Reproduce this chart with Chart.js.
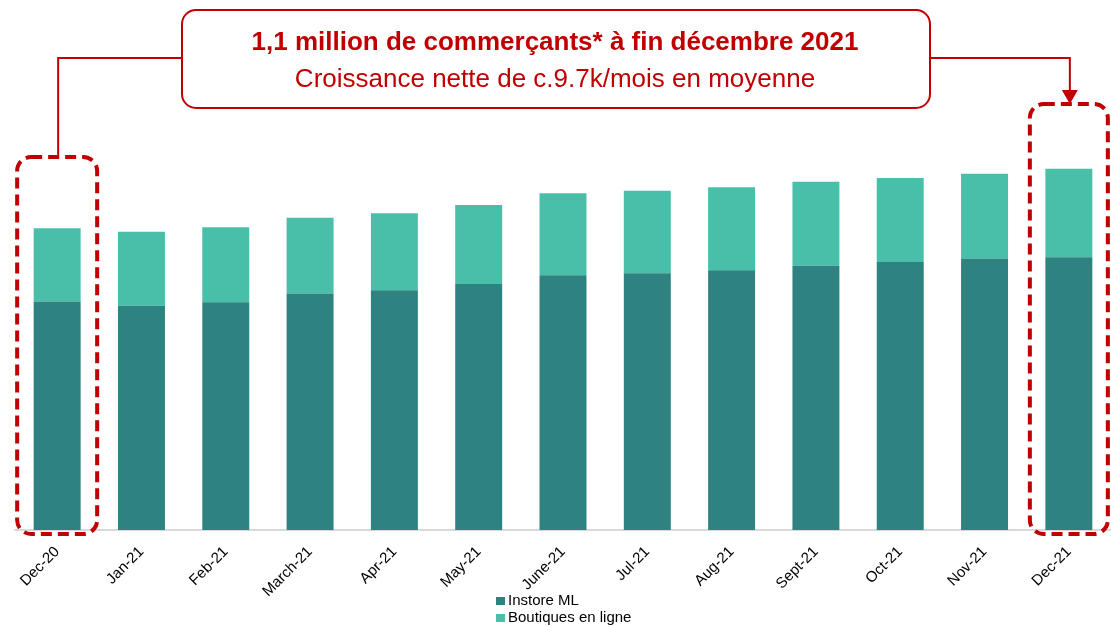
<!DOCTYPE html>
<html>
<head>
<meta charset="utf-8">
<script src="https://cdn.jsdelivr.net/npm/chart.js@4"></script>
<style>
  html, body { margin: 0; padding: 0; background: #fff; }
  #wrap { position: relative; width: 1111px; height: 626px; }
  #legend { position: absolute; left: 496px; top: 591px; font: 15px Arial, "Liberation Sans", sans-serif; color: #000; line-height: 17px; }
  #legend .box { display: inline-block; width: 9px; height: 8px; margin-right: 3px; }
</style>
</head>
<body>
<div id="wrap">
  <canvas id="chart" width="1111" height="626"></canvas>
  <div id="legend"></div>
</div>
<script>
// values in thousands of merchants
var months = ['Dec-20', 'Jan-21', 'Feb-21', 'March-21', 'Apr-21', 'May-21', 'June-21', 'Jul-21', 'Aug-21', 'Sept-21', 'Oct-21', 'Nov-21', 'Dec-21'];
var instoreML = [696, 683, 694, 720, 730, 749, 776, 782, 791, 805, 816, 827, 831];
var boutiquesEnLigne = [223, 225, 228, 231, 235, 241, 250, 251, 253, 256, 256, 258, 269];
var seriesNames = ['Instore ML', 'Boutiques en ligne'];
var headline = '1,1 million de commerçants* à fin décembre 2021';
var subline = 'Croissance nette de c.9.7k/mois en moyenne';

var RED = '#C00000';
var FONT = 'Arial, "Liberation Sans", sans-serif';

function roundedRect(ctx, x, y, w, h, r) {
    ctx.beginPath();
    ctx.moveTo(x + r, y);
    ctx.lineTo(x + w - r, y);
    ctx.arcTo(x + w, y, x + w, y + r, r);
    ctx.lineTo(x + w, y + h - r);
    ctx.arcTo(x + w, y + h, x + w - r, y + h, r);
    ctx.lineTo(x + r, y + h);
    ctx.arcTo(x, y + h, x, y + h - r, r);
    ctx.lineTo(x, y + r);
    ctx.arcTo(x, y, x + r, y, r);
    ctx.closePath();
}

// callout box, connectors and the dashed highlight frames
var overlayPlugin = {
    id: 'overlay',
    afterDraw: function (chart) {
        var ctx = chart.ctx;
        var xs = chart.scales.x;
        var xFirst = xs.getPixelForValue(0);
        var xLast = xs.getPixelForValue(months.length - 1);
        var bottom = chart.chartArea.bottom + 4;

        ctx.save();
        ctx.strokeStyle = RED;
        ctx.lineWidth = 4;
        ctx.setLineDash([11, 6]);
        roundedRect(ctx, xFirst - 40, 157, 80, bottom - 157, 14);
        ctx.stroke();
        roundedRect(ctx, xLast - 39, 104, 78, bottom - 104, 14);
        ctx.stroke();

        ctx.setLineDash([]);
        ctx.lineWidth = 2;
        ctx.beginPath();
        ctx.moveTo(182, 58);
        ctx.lineTo(xFirst + 1, 58);
        ctx.lineTo(xFirst + 1, 157);
        ctx.moveTo(930, 58);
        ctx.lineTo(xLast + 1, 58);
        ctx.lineTo(xLast + 1, 92);
        ctx.stroke();
        ctx.fillStyle = RED;
        ctx.beginPath();
        ctx.moveTo(xLast - 7, 90);
        ctx.lineTo(xLast + 9, 90);
        ctx.lineTo(xLast + 1, 104);
        ctx.closePath();
        ctx.fill();

        ctx.fillStyle = '#fff';
        roundedRect(ctx, 182, 10, 748, 98, 14);
        ctx.fill();
        ctx.stroke();

        ctx.fillStyle = RED;
        ctx.textAlign = 'center';
        ctx.textBaseline = 'middle';
        ctx.font = 'bold 26px ' + FONT;
        ctx.fillText(headline, 555, 43);
        ctx.font = '26px ' + FONT;
        ctx.fillText(subline, 555, 80);
        ctx.restore();
    }
};

var ctx = document.getElementById('chart').getContext('2d');
var chart = new Chart(ctx, {
    type: 'bar',
    data: {
        labels: months,
        datasets: [{
            label: seriesNames[0],
            data: instoreML,
            backgroundColor: '#2E8280',
            borderWidth: 0
        }, {
            label: seriesNames[1],
            data: boutiquesEnLigne,
            backgroundColor: '#49BFAA',
            borderWidth: 0
        }]
    },
    options: {
        responsive: false,
        animation: false,
        layout: { padding: { top: 136, left: 15, right: 0, bottom: 0 } },
        datasets: { bar: { barPercentage: 0.557, categoryPercentage: 1 } },
        plugins: {
            legend: { display: false },
            tooltip: { enabled: true }
        },
        scales: {
            x: {
                stacked: true,
                grid: { display: false, drawTicks: false },
                border: { display: true, color: '#D9D9D9', width: 2 },
                ticks: {
                    color: '#000',
                    font: { family: FONT, size: 15 },
                    minRotation: 45,
                    maxRotation: 45,
                    autoSkip: false,
                    padding: 13
                },
                afterFit: function (s) { s.height = 96; }
            },
            y: {
                stacked: true,
                display: false,
                min: 0,
                max: 1200
            }
        }
    },
    plugins: [overlayPlugin]
});

// two-line legend under the axis
var legend = document.getElementById('legend');
chart.data.datasets.forEach(function (ds) {
    var row = document.createElement('div');
    row.innerHTML = '<span class="box" style="background:' + ds.backgroundColor + '"></span>' + ds.label;
    legend.appendChild(row);
});
</script>
</body>
</html>
